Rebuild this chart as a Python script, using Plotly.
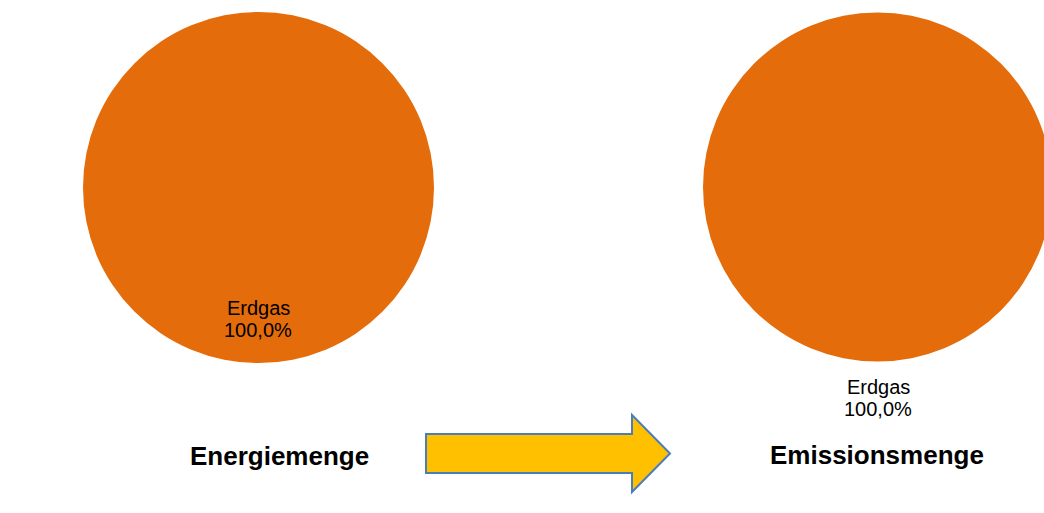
import plotly.graph_objects as go

# the reference crops the right pie at the window edge, so the figure is a bit
# wider than the 1044px window and the overflow is hidden
W, H = 1060, 513

categories = ["Erdgas"]
energy_values = [100.0]
emission_values = [100.0]
chart_titles = ["Energiemenge", "Emissionsmenge"]

ORANGE = "#E46C0A"
FONT = "Liberation Sans, Arial, sans-serif"


def px_x(x):
    return x / W


def px_y(y):
    return 1 - y / H


def pct(values, i):
    return f"{values[i] / sum(values) * 100:.1f}".replace(".", ",") + "%"


fig = go.Figure()

fig.add_trace(go.Pie(
    labels=categories, values=energy_values, sort=False,
    marker=dict(colors=[ORANGE], line=dict(width=0)),
    textinfo="none", hoverinfo="skip", showlegend=False,
    domain=dict(x=[px_x(83), px_x(434)], y=[px_y(363), px_y(12)]),
))
fig.add_trace(go.Pie(
    labels=categories, values=emission_values, sort=False,
    marker=dict(colors=[ORANGE], line=dict(width=0)),
    textinfo="none", hoverinfo="skip", showlegend=False,
    domain=dict(x=[px_x(703), px_x(1052)], y=[px_y(361.5), px_y(12.5)]),
))

annotations = []


def label(x, y, text, size, bold=False):
    annotations.append(dict(
        x=px_x(x), y=px_y(y), xref="paper", yref="paper",
        text=f"<b>{text}</b>" if bold else text, showarrow=False,
        xanchor="center", yanchor="middle",
        font=dict(family=FONT, size=size, color="#000000"),
    ))


# left pie label (inside, near bottom)
label(258, 308, categories[0], 20)
label(258, 330, pct(energy_values, 0), 20)
# right pie label (outside, below)
label(878, 387, categories[0], 20)
label(878, 409, pct(emission_values, 0), 20)
# titles
label(279, 456, chart_titles[0], 26, bold=True)
label(877, 455, chart_titles[1], 26, bold=True)

arrow_path = "M 426 434 L 632 434 L 632 415 L 670 453.5 L 632 492 L 632 473 L 426 473 Z"


def path_to_paper(p):
    toks = p.split()
    out = []
    i = 0
    while i < len(toks):
        t = toks[i]
        if t in ("M", "L"):
            x = float(toks[i + 1]); y = float(toks[i + 2])
            out.append(f"{t} {px_x(x):.5f},{px_y(y):.5f}")
            i += 3
        else:
            out.append(t)
            i += 1
    return " ".join(out)


fig.add_shape(type="path", xref="paper", yref="paper",
              path=path_to_paper(arrow_path),
              fillcolor="#FFC000", line=dict(color="#4A7EBB", width=2))

fig.update_layout(
    width=W, height=H,
    margin=dict(l=0, r=0, t=0, b=0),
    paper_bgcolor="white", plot_bgcolor="white",
    annotations=annotations,
)

fig.write_html(
    "out.html",
    config=dict(displayModeBar=False),
    post_script="document.body.style.margin='0';document.body.style.overflow='hidden';",
)
